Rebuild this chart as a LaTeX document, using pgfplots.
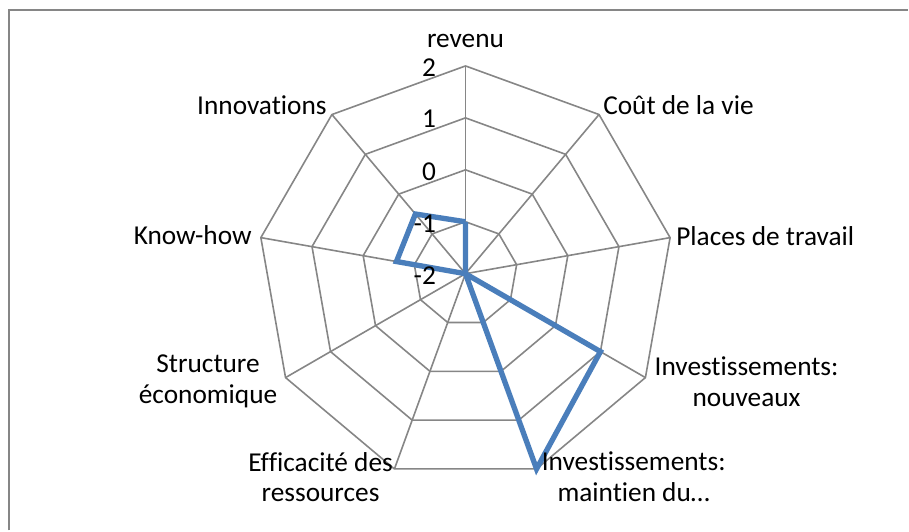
\documentclass[border=0pt]{standalone}
\usepackage{fontspec}
\setmainfont[Ligatures=CommonOff]{Carlito}
\usepackage{pgfplots}
\pgfplotsset{compat=1.18}
\usepgfplotslibrary{polar}
\definecolor{gridc}{HTML}{868686}
\definecolor{serie}{HTML}{4A7EBB}
\begin{document}
\fontsize{20.5}{23}\selectfont
\begin{tikzpicture}
% page size (1px = 0.75pt), chart centre at origin
\path (-349.5pt,-192.75pt) rectangle (332.25pt,205.5pt);
\draw[gridc, line width=1.5pt] (-342.75pt,-192.75pt) -- (-342.75pt,198pt) -- (332.25pt,198pt);

\begin{polaraxis}[
    at={(0,0)}, anchor=center,
    scale only axis, width=312pt, height=312pt,
    xmin=0, xmax=360, ymin=0, ymax=4,
    axis line style={draw=none},
    xtick=\empty, ytick=\empty,
    clip=false,
    y filter/.expression={y+2},
]

% spokes
\pgfplotsinvokeforeach{90,50,10,330,290,250,210,170,130}{
  \addplot[gridc, line width=1.2pt, no marks] coordinates {(#1,-2) (#1,2)};
}
% rings
\pgfplotsinvokeforeach{-1,0,1,2}{
  \addplot[gridc, line width=1.2pt, no marks] coordinates {
    (90,#1) (50,#1) (10,#1) (330,#1) (290,#1) (250,#1) (210,#1) (170,#1) (130,#1) (90,#1)};
}

% series
\addplot[serie, line width=4pt, no marks] coordinates {
    (90,-1) (50,-2) (10,-2) (330,1) (290,2) (250,-2) (210,-2) (170,-0.65) (130,-0.5) (90,-1)
};

% radial tick labels
\node[anchor=east, inner sep=0pt, xshift=-22pt, yshift=-1pt] at (axis cs:90,4) {2};
\node[anchor=east, inner sep=0pt, xshift=-22pt, yshift=-1pt] at (axis cs:90,3) {1};
\node[anchor=east, inner sep=0pt, xshift=-22pt, yshift=-1.5pt] at (axis cs:90,2) {0};
\node[anchor=east, inner sep=0pt, xshift=-22pt, yshift=-1.5pt] at (axis cs:90,1) {-1};
\node[anchor=east, inner sep=0pt, xshift=-22pt, yshift=-1.5pt] at (axis cs:90,0) {-2};

% category labels
\node[anchor=base, inner sep=0pt, yshift=13.5pt] at (axis cs:90,4) {revenu};
\node[anchor=base west, inner sep=0pt, xshift=3pt] at (axis cs:50,4) {Coût de la vie};
\node[anchor=base west, inner sep=0pt, xshift=4.5pt, yshift=-6pt] at (axis cs:10,4) {Places de travail};
\node[anchor=west, align=center, inner sep=0pt, xshift=6.75pt, yshift=-3pt] at (axis cs:330,4) {Investissements:\\nouveaux};
\node[anchor=west, align=center, inner sep=0pt, xshift=3.75pt, yshift=-6pt] at (axis cs:290,4) {Investissements:\\maintien du…};
\node[anchor=east, align=center, inner sep=0pt, xshift=-1pt, yshift=-6pt] at (axis cs:250,4) {Efficacité des\\ressources};
\node[anchor=east, align=center, inner sep=0pt, xshift=-6pt, yshift=-3pt] at (axis cs:210,4) {Structure\\économique};
\node[anchor=base east, inner sep=0pt, xshift=-6.75pt, yshift=-5.25pt] at (axis cs:170,4) {Know-how};
\node[anchor=base east, inner sep=0pt, xshift=-3.75pt] at (axis cs:130,4) {Innovations};
\end{polaraxis}
\end{tikzpicture}
\end{document}
